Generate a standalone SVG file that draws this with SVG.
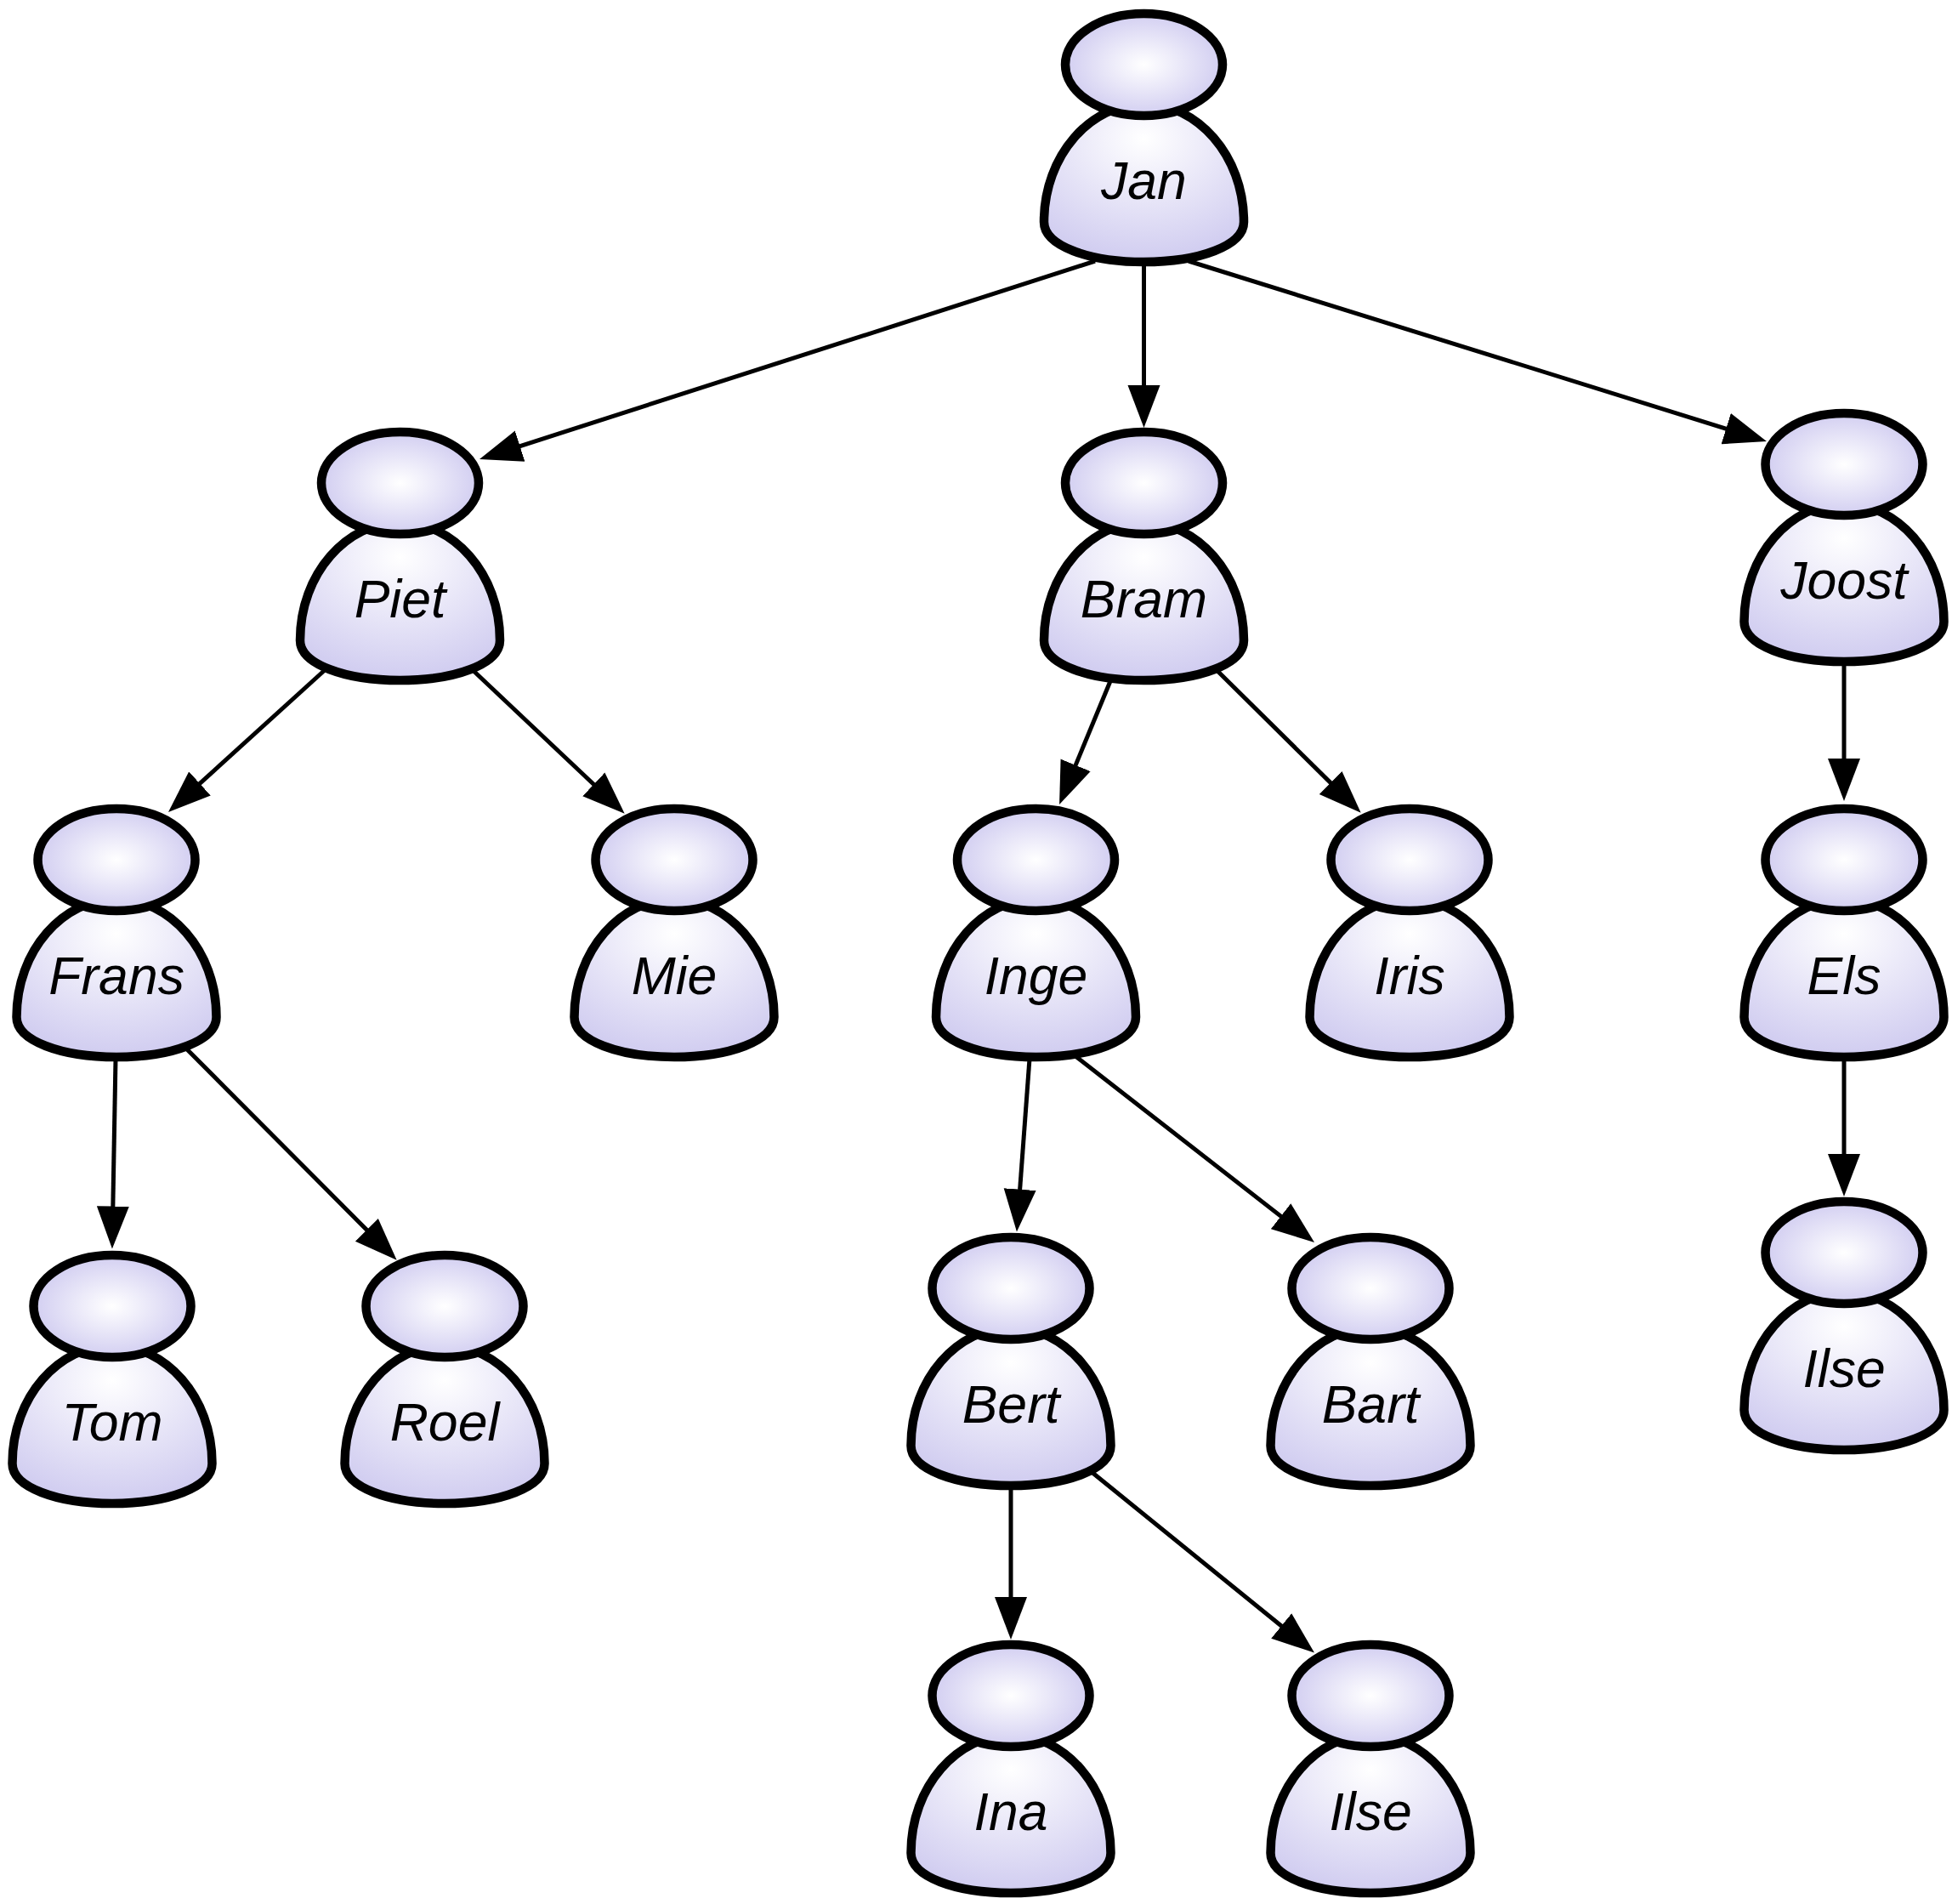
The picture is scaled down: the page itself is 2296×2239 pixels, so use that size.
<svg xmlns="http://www.w3.org/2000/svg" width="2296" height="2239" viewBox="0 0 2296 2239">
<style>
.shape{stroke:#000;stroke-width:10.5;stroke-linejoin:round}
.edge{fill:none;stroke:#000;stroke-width:5;marker-end:url(#arrow)}
text{font-family:"Liberation Sans",Arial,sans-serif;font-style:italic;font-size:62.5px;text-anchor:middle;fill:#000}
</style>
<defs>
<radialGradient id="headFill" cx="0.5" cy="0.5" r="0.5"><stop offset="0" stop-color="#fff"/><stop offset="1" stop-color="#d2cef1"/></radialGradient>
<radialGradient id="bodyFill" cx="0.5" cy="0.22" r="0.78"><stop offset="0" stop-color="#fff"/><stop offset="1" stop-color="#d0ccf0"/></radialGradient>
<marker id="arrow" markerUnits="userSpaceOnUse" markerWidth="52" markerHeight="40" refX="25" refY="20" orient="auto"><path d="M0,1 L50,20 L0,39 Z" fill="#000"/></marker>
<g id="person">
<path class="shape" fill="url(#bodyFill)" d="M-117.5,185 C-117.5,106 -62,46 0,46 C62,46 117.5,106 117.5,185 C117.5,213 65,232 0,232 C-65,232 -117.5,213 -117.5,185 Z"/>
<ellipse class="shape" fill="url(#headFill)" cx="0" cy="0" rx="92.5" ry="60"/>
</g>
</defs>
<g id="connectors">
<path class="edge" d="M1288,307 L587.8,532.3"/>
<path class="edge" d="M1345.5,307 L1345.5,478"/>
<path class="edge" d="M1398,307 L2054.1,511.6"/>
<path class="edge" d="M382,788 L216.5,938.2"/>
<path class="edge" d="M556,788 L716.5,939.5"/>
<path class="edge" d="M1306,801 L1255.6,922.9"/>
<path class="edge" d="M1431,788 L1582.9,938.1"/>
<path class="edge" d="M2169,783 L2169,917"/>
<path class="edge" d="M136,1245 L132.4,1443.5"/>
<path class="edge" d="M218,1232 L449,1464"/>
<path class="edge" d="M1211,1245 L1197.8,1423.6"/>
<path class="edge" d="M1265,1242 L1526.3,1445.6"/>
<path class="edge" d="M1189,1750 L1189,1903"/>
<path class="edge" d="M1284,1731 L1526.6,1927.8"/>
<path class="edge" d="M2169,1245 L2169,1382"/>
</g>
<g id="node-jan" transform="translate(1345.5,76)"><use href="#person"/><text y="158">Jan</text></g>
<g id="node-piet" transform="translate(470.5,568)"><use href="#person"/><text y="158">Piet</text></g>
<g id="node-bram" transform="translate(1345.5,568)"><use href="#person"/><text y="158">Bram</text></g>
<g id="node-joost" transform="translate(2169,546)"><use href="#person"/><text y="158">Joost</text></g>
<g id="node-frans" transform="translate(137,1011)"><use href="#person"/><text y="158">Frans</text></g>
<g id="node-mie" transform="translate(793,1011)"><use href="#person"/><text y="158">Mie</text></g>
<g id="node-inge" transform="translate(1218.5,1011)"><use href="#person"/><text y="158">Inge</text></g>
<g id="node-iris" transform="translate(1658,1011)"><use href="#person"/><text y="158">Iris</text></g>
<g id="node-els" transform="translate(2169,1011)"><use href="#person"/><text y="158">Els</text></g>
<g id="node-tom" transform="translate(132,1536)"><use href="#person"/><text y="158">Tom</text></g>
<g id="node-roel" transform="translate(523,1536)"><use href="#person"/><text y="158">Roel</text></g>
<g id="node-bert" transform="translate(1189,1515)"><use href="#person"/><text y="158">Bert</text></g>
<g id="node-bart" transform="translate(1612,1515)"><use href="#person"/><text y="158">Bart</text></g>
<g id="node-ina" transform="translate(1189,1994)"><use href="#person"/><text y="158">Ina</text></g>
<g id="node-ilse-1" transform="translate(1612,1994)"><use href="#person"/><text y="158">Ilse</text></g>
<g id="node-ilse-2" transform="translate(2169,1473)"><use href="#person"/><text y="158">Ilse</text></g>
</svg>
